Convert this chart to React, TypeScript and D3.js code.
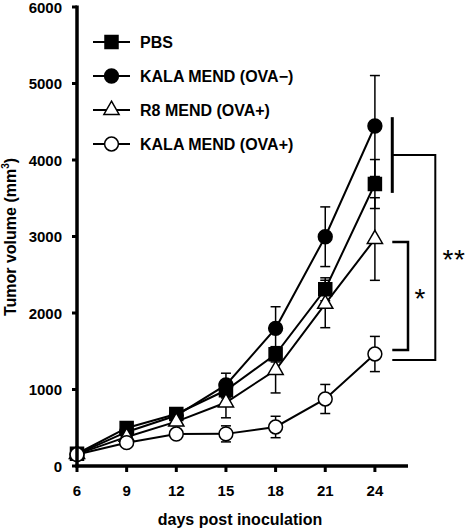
import React from "react";
import * as d3 from "d3";

const days = [6, 9, 12, 15, 18, 21, 24];
const xTicks = [6, 9, 12, 15, 18, 21, 24];
const yTicks = [0, 1000, 2000, 3000, 4000, 5000, 6000];

const seriesNames = ["PBS", "KALA MEND (OVA\u2212)", "R8 MEND (OVA+)", "KALA MEND (OVA+)"];
const seriesSymbols = ["square", "circle", "triangle", "circle"];
const seriesFills = ["#000", "#000", "#fff", "#fff"];

const pbsMean = [160, 497, 680, 990, 1460, 2310, 3686];
const pbsErr = [20, 40, 50, 100, 100, 150, 320];
const kalaNegMean = [155, 445, 660, 1060, 1800, 2997, 4444];
const kalaNegErr = [20, 30, 50, 153, 282, 390, 660];
const r8Mean = [155, 380, 580, 830, 1255, 2118, 2967];
const r8Err = [20, 30, 50, 200, 300, 310, 540];
const kalaPosMean = [150, 305, 418, 420, 510, 876, 1464];
const kalaPosErr = [20, 30, 40, 105, 140, 190, 230];

const seriesMeans = [pbsMean, kalaNegMean, r8Mean, kalaPosMean];
const seriesErrs = [pbsErr, kalaNegErr, r8Err, kalaPosErr];

// significance annotations (value levels)
const bigBarTop = 4560;
const bigBarBottom = 3570;
const bigBracketTop = 4065;
const bigBracketBottom = 1386;
const smallBracketTop = 2928;
const smallBracketBottom = 1516;

const FONT = "'Liberation Sans', Arial, Helvetica, sans-serif";

export default function App() {
  const W = 465;
  const H = 529;
  const x = d3.scaleLinear().domain([6, 26]).range([77, 408]);
  const y = d3.scaleLinear().domain([0, 6000]).range([466, 7]);

  const line = d3
    .line<number>()
    .x((_, i) => x(days[i]))
    .y((v) => y(v));

  const symType = (s: string) =>
    s === "square" ? d3.symbolSquare : s === "triangle" ? d3.symbolTriangle : d3.symbolCircle;
  const symSize = (s: string) => (s === "square" ? 169 : s === "triangle" ? 100 : 150);
  const symPath = (s: string) => d3.symbol().type(symType(s)).size(symSize(s))() as string;

  const capW = 5;

  const legendY = [42, 76, 110, 144];

  const xb1 = x(25.05);
  const xb2 = x(27.65);
  const xs2 = x(26.0);

  return (
    <svg
      width={W}
      height={H}
      style={{ position: "absolute", left: 0, top: 0, background: "#fff" }}
      fontFamily={FONT}
    >
      <rect width={W} height={H} fill="#fff" />
      {/* error bars */}
      {seriesMeans.map((m, si) => (
        <g key={"e" + si} stroke="#000" strokeWidth={1.5}>
          {m.map((v, i) => {
            const e = seriesErrs[si][i];
            const cx = x(days[i]);
            return (
              <g key={i}>
                <line x1={cx} x2={cx} y1={y(v + e)} y2={y(v - e)} />
                <line x1={cx - capW} x2={cx + capW} y1={y(v + e)} y2={y(v + e)} />
                <line x1={cx - capW} x2={cx + capW} y1={y(v - e)} y2={y(v - e)} />
              </g>
            );
          })}
        </g>
      ))}
      {/* lines */}
      {seriesMeans.map((m, si) => (
        <path key={"l" + si} d={line(m) as string} fill="none" stroke="#000" strokeWidth={2} />
      ))}
      {/* markers */}
      {seriesMeans.map((m, si) => (
        <g key={"m" + si}>
          {m.map((v, i) => (
            <path
              key={i}
              d={symPath(seriesSymbols[si])}
              transform={`translate(${x(days[i])},${y(v)})`}
              fill={seriesFills[si]}
              stroke="#000"
              strokeWidth={1.5}
            />
          ))}
        </g>
      ))}

      {/* axes */}
      <line x1={x(6)} x2={x(6)} y1={y(6000) - 1.5} y2={y(0) + 1.5} stroke="#000" strokeWidth={3.5} />
      <line x1={x(6) - 1.5} x2={x(26)} y1={y(0)} y2={y(0)} stroke="#000" strokeWidth={3.5} />
      {yTicks.map((t) => (
        <g key={"yt" + t}>
          <line x1={x(6) - 5} x2={x(6)} y1={y(t)} y2={y(t)} stroke="#000" strokeWidth={3} />
          <text
            x={62}
            y={y(t) + 5.5}
            textAnchor="end"
            fontSize={15}
            fontWeight="bold"
          >
            {t}
          </text>
        </g>
      ))}
      {xTicks.map((t) => (
        <g key={"xt" + t}>
          <line x1={x(t)} x2={x(t)} y1={y(0)} y2={y(0) + 6} stroke="#000" strokeWidth={3} />
          <text x={x(t)} y={496} textAnchor="middle" fontSize={15} fontWeight="bold">
            {t}
          </text>
        </g>
      ))}
      <text x={240} y={525} textAnchor="middle" fontSize={16} fontWeight="bold">
        days post inoculation
      </text>
      <text
        transform="translate(16,237) rotate(-90)"
        textAnchor="middle"
        fontSize={16}
        fontWeight="bold"
      >
        Tumor volume (mm
        <tspan fontSize={10} dy={-7}>
          3
        </tspan>
        <tspan dy={7}>)</tspan>
      </text>

      {/* legend */}
      {seriesNames.map((n, si) => (
        <g key={"lg" + si} transform={`translate(0,${legendY[si]})`}>
          <line x1={93} x2={130} y1={0} y2={0} stroke="#000" strokeWidth={2} />
          <path
            d={symPath(seriesSymbols[si])}
            transform="translate(111.5,0)"
            fill={seriesFills[si]}
            stroke="#000"
            strokeWidth={1.5}
          />
          <text x={140} y={5.8} fontSize={16} fontWeight="bold">
            {n}
          </text>
        </g>
      ))}

      {/* significance brackets */}
      <g stroke="#000" fill="none">
        <line x1={xb1} x2={xb1} y1={y(bigBarTop)} y2={y(bigBarBottom)} strokeWidth={3} />
        <polyline
          points={`${xb1},${y(bigBracketTop)} ${xb2},${y(bigBracketTop)} ${xb2},${y(bigBracketBottom)} ${xb1},${y(bigBracketBottom)}`}
          strokeWidth={2}
        />
        <polyline
          points={`${xb1},${y(smallBracketTop)} ${xs2},${y(smallBracketTop)} ${xs2},${y(smallBracketBottom)} ${xb1},${y(smallBracketBottom)}`}
          strokeWidth={2.5}
        />
      </g>
      <text x={420} y={308} textAnchor="middle" fontSize={28}>
        *
      </text>
      <text x={454} y={269} textAnchor="middle" fontSize={28} letterSpacing={0.5}>
        **
      </text>
    </svg>
  );
}
